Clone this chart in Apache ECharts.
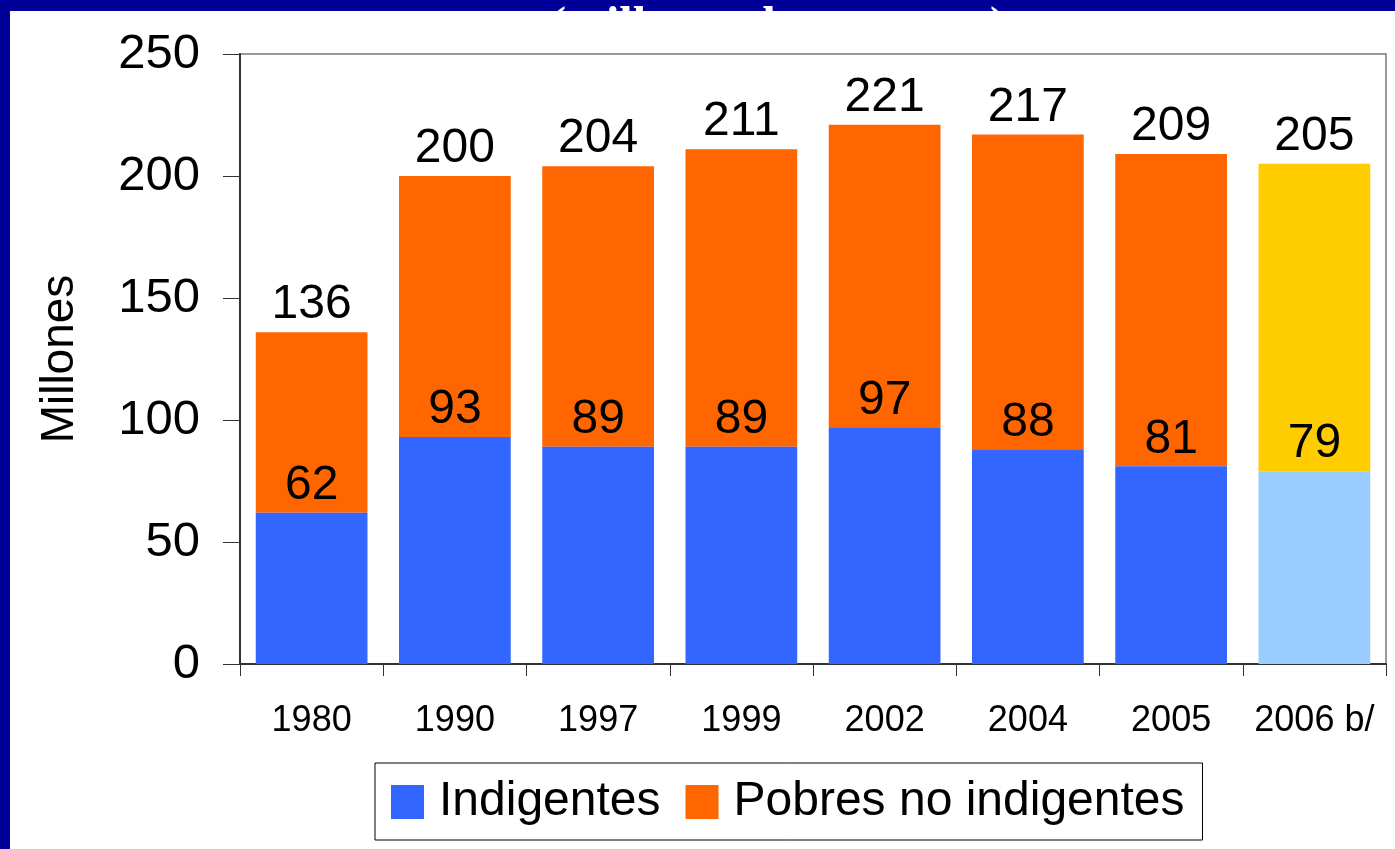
<!DOCTYPE html>
<html>
<head>
<meta charset="utf-8">
<script src="https://cdn.jsdelivr.net/npm/echarts@6/dist/echarts.min.js"></script>
<style>
html,body{margin:0;padding:0;background:#000099;}
#chart{width:1395px;height:849px;}
</style>
</head>
<body>
<div id="chart"></div>
<script>
var categories = ['1980', '1990', '1997', '1999', '2002', '2004', '2005', '2006 b/'];
var indigentes = [62, 93, 89, 89, 97, 88, 81, 79];
var totales = [136, 200, 204, 211, 221, 217, 209, 205];
var yTicks = [0, 50, 100, 150, 200, 250];
var subtitle = '(millones de personas)';

var pobresNoIndigentes = totales.map(function (t, i) { return t - indigentes[i]; });

var FONT = "'Liberation Sans', Arial, sans-serif";
var BLUE = '#3366FF', ORANGE = '#FF6600', LIGHTBLUE = '#99CCFF', YELLOW = '#FFCC00';

var indData = indigentes.map(function (v, i) {
  return i === indigentes.length - 1 ? { value: v, itemStyle: { color: LIGHTBLUE } } : v;
});
var pobData = pobresNoIndigentes.map(function (v, i) {
  return i === pobresNoIndigentes.length - 1 ? { value: v, itemStyle: { color: YELLOW } } : v;
});

var chart = echarts.init(document.getElementById('chart'), null, { renderer: 'canvas' });
chart.setOption({
  backgroundColor: '#000099',
  animation: false,
  graphic: [
    { type: 'text', z: -20, x: 778, y: 4,
      style: { text: subtitle, fill: '#FFFFFF', align: 'center', verticalAlign: 'top',
        font: "bold 48px 'Liberation Serif', 'Times New Roman', serif" } },
    { type: 'rect', z: -10, shape: { x: 10, y: 11, width: 1385, height: 838 }, style: { fill: '#FFFFFF' } }
  ],
  grid: {
    left: 240, top: 54, right: 9, bottom: 185,
    show: true, borderColor: '#999999', borderWidth: 2, backgroundColor: 'transparent'
  },
  legend: {
    left: 375, top: 763,
    padding: [15, 18, 14, 16],
    borderColor: '#000000', borderWidth: 1,
    itemWidth: 33, itemHeight: 34, itemGap: 25,
    icon: 'rect',
    data: ['Indigentes', 'Pobres no indigentes'],
    textStyle: { fontFamily: FONT, fontSize: 48, color: '#000000', padding: [0, 0, 0, 10] }
  },
  xAxis: {
    type: 'category',
    data: categories,
    axisLine: { show: true, lineStyle: { color: '#333333', width: 2 } },
    axisTick: { show: true, alignWithLabel: false, length: 12, lineStyle: { color: '#333333', width: 1 } },
    axisLabel: { fontFamily: FONT, fontSize: 36, color: '#000000', margin: 39, interval: 0 }
  },
  yAxis: {
    type: 'value',
    min: yTicks[0], max: yTicks[yTicks.length - 1], interval: 50,
    name: 'Millones',
    nameLocation: 'middle',
    nameGap: 157,
    nameRotate: 90,
    nameTextStyle: { fontFamily: FONT, fontSize: 46, color: '#000000' },
    axisLine: { show: true, lineStyle: { color: '#333333', width: 2 } },
    axisTick: { show: true, length: 17, lineStyle: { color: '#333333', width: 1 } },
    splitLine: { show: false },
    axisLabel: { fontFamily: FONT, fontSize: 49, color: '#000000', margin: 40 }
  },
  series: [
    {
      name: 'Indigentes', type: 'bar', stack: 'total', barWidth: '78%', z: 3,
      itemStyle: { color: BLUE },
      label: { show: true, position: 'top', distance: 3, fontFamily: FONT, fontSize: 48, color: '#000000' },
      data: indData
    },
    {
      name: 'Pobres no indigentes', type: 'bar', stack: 'total', barWidth: '78%',
      itemStyle: { color: ORANGE },
      label: { show: true, position: 'top', distance: 3, fontFamily: FONT, fontSize: 48, color: '#000000',
        formatter: function (p) { return String(totales[p.dataIndex]); } },
      data: pobData
    }
  ]
});
</script>
</body>
</html>
